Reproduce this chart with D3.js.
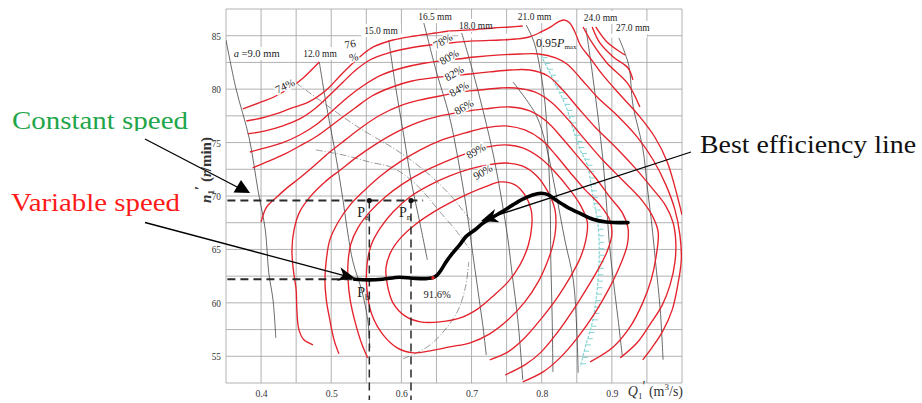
<!DOCTYPE html>
<html>
<head>
<meta charset="utf-8">
<script src="https://cdn.jsdelivr.net/npm/d3@7"></script>
<style>
  body { margin: 0; background: #fff; }
  svg { display: block; }
  svg text { font-family: "Liberation Serif", "DejaVu Serif", serif; }
</style>
</head>
<body>
<svg id="chart" width="922" height="403"></svg>
<script>
// ---------- axes ----------
const qDomain = [0.35, 1.0];
const nDomain = [52.5, 87.5];
const xTicks = [0.4, 0.5, 0.6, 0.7, 0.8, 0.9];
const yTicks = [55, 60, 65, 70, 75, 80, 85];

// ---------- efficiency contours [Q1', n1'] ----------
const eff74 = [[0.374,78.15],[0.397,78.71],[0.421,79.36],[0.447,80.39],[0.460,81.05],[0.483,82.54]];
const eff76 = [[0.379,77.02],[0.401,77.30],[0.421,77.68],[0.444,78.24],[0.468,78.80],[0.493,79.92],[0.511,81.14],[0.528,82.26],[0.544,83.20],[0.560,83.95],[0.588,84.60],[0.619,84.97],[0.648,85.25],[0.669,85.44],[0.698,85.54],[0.731,85.72],[0.755,85.82],[0.773,85.91]];
const eff78 = [[0.381,75.81],[0.406,76.09],[0.431,76.56],[0.455,77.21],[0.478,78.24],[0.498,79.45],[0.517,80.67],[0.535,81.79],[0.555,82.73],[0.581,83.38],[0.612,83.85],[0.641,84.13],[0.669,84.32],[0.705,84.51],[0.741,84.60],[0.763,84.69],[0.782,84.88],[0.799,85.35],[0.813,85.82],[0.823,86.28],[0.832,86.47],[0.840,86.19],[0.848,85.25],[0.855,84.13],[0.869,82.92],[0.887,81.33],[0.912,79.45],[0.940,77.40],[0.962,75.43],[0.979,73.19],[0.991,70.57],[1.000,68.23]];
const eff80 = [[0.384,74.12],[0.406,74.50],[0.430,74.97],[0.455,75.71],[0.480,76.74],[0.503,78.05],[0.524,79.27],[0.547,80.39],[0.572,81.33],[0.601,81.98],[0.634,82.45],[0.669,82.73],[0.705,83.01],[0.741,83.20],[0.769,83.29],[0.796,83.29],[0.820,82.92],[0.836,82.35],[0.855,81.05],[0.879,79.27],[0.907,77.58],[0.936,75.53],[0.959,73.37],[0.977,71.04],[0.990,68.70],[0.997,66.36],[0.999,64.02],[0.994,61.68],[0.986,59.34],[0.972,57.28],[0.957,55.79],[0.944,54.67]];
const eff82 = [[0.388,72.63],[0.408,73.19],[0.431,73.84],[0.455,74.68],[0.480,75.62],[0.507,76.93],[0.534,78.24],[0.558,79.36],[0.587,80.20],[0.615,80.76],[0.644,81.05],[0.669,81.23],[0.698,81.42],[0.726,81.61],[0.755,81.79],[0.783,81.79],[0.809,81.23],[0.830,79.92],[0.852,78.24],[0.876,76.46],[0.905,74.59],[0.933,72.63],[0.957,70.76],[0.976,69.17],[0.987,67.57],[0.991,65.89],[0.990,63.83],[0.983,61.68],[0.972,59.81],[0.954,57.94],[0.936,56.26],[0.912,54.85]];
const eff84 = [[0.400,67.57],[0.408,68.98],[0.421,69.82],[0.437,70.76],[0.455,71.69],[0.477,72.91],[0.498,74.12],[0.520,75.25],[0.544,76.46],[0.570,77.58],[0.598,78.43],[0.627,78.99],[0.655,79.36],[0.684,79.74],[0.712,79.92],[0.741,80.11],[0.762,80.11],[0.790,79.74],[0.815,78.71],[0.838,77.12],[0.862,75.25],[0.887,73.37],[0.915,71.50],[0.940,69.82],[0.957,68.23],[0.966,66.64],[0.963,64.30],[0.956,62.15],[0.944,60.00],[0.926,57.75],[0.902,55.88],[0.869,54.48]];
const eff86 = [[0.474,56.07],[0.461,56.54],[0.454,57.47],[0.451,59.34],[0.450,61.21],[0.446,63.08],[0.444,64.96],[0.447,66.83],[0.455,68.51],[0.471,70.01],[0.491,71.32],[0.513,72.44],[0.537,73.66],[0.562,74.78],[0.591,75.90],[0.622,76.84],[0.655,77.49],[0.686,77.86],[0.719,78.15],[0.755,78.33],[0.783,77.96],[0.808,76.93],[0.829,75.43],[0.852,73.66],[0.876,71.78],[0.897,69.91],[0.915,68.42],[0.923,67.01],[0.922,65.42],[0.912,63.55],[0.895,61.21],[0.876,59.06],[0.852,56.82],[0.826,54.85],[0.802,53.54],[0.773,52.61]];
const eff88 = [[0.511,55.23],[0.504,56.54],[0.498,58.41],[0.493,60.28],[0.491,62.15],[0.493,64.02],[0.498,65.89],[0.510,67.57],[0.527,69.17],[0.548,70.57],[0.572,71.97],[0.598,73.19],[0.627,74.31],[0.658,75.25],[0.691,75.90],[0.719,76.37],[0.748,76.56],[0.776,76.18],[0.800,75.25],[0.820,73.84],[0.840,72.25],[0.862,70.57],[0.883,69.17],[0.897,67.76],[0.900,66.36],[0.893,64.77],[0.880,63.08],[0.863,61.21],[0.845,59.34],[0.822,57.19],[0.798,55.32],[0.776,54.20],[0.748,53.26]];
const eff89 = [[0.552,54.85],[0.544,56.07],[0.534,58.22],[0.527,60.28],[0.524,62.15],[0.524,63.83],[0.528,65.52],[0.538,67.01],[0.555,68.51],[0.577,69.91],[0.602,71.13],[0.631,72.25],[0.662,73.19],[0.695,74.03],[0.723,74.59],[0.748,74.78],[0.773,74.50],[0.798,73.56],[0.819,72.25],[0.838,70.76],[0.855,69.17],[0.865,67.57],[0.863,65.89],[0.855,64.21],[0.840,62.34],[0.822,60.47],[0.798,58.41],[0.773,56.54],[0.752,55.41],[0.726,54.67]];
const eff90 = [[0.748,73.09],[0.772,72.81],[0.793,71.88],[0.809,70.38],[0.819,68.70],[0.820,67.01],[0.816,65.42],[0.808,63.83],[0.795,61.96],[0.776,60.09],[0.752,58.41],[0.726,57.10],[0.698,56.26],[0.669,55.88],[0.641,55.51],[0.617,55.32],[0.594,55.79],[0.574,57.00],[0.558,58.88],[0.551,61.21],[0.551,63.55],[0.557,65.42],[0.570,67.01],[0.588,68.51],[0.612,69.91],[0.641,71.04],[0.669,71.88],[0.698,72.53],[0.723,72.91],[0.748,73.09]];
const eff91 = [[0.741,71.32],[0.762,71.04],[0.776,70.10],[0.785,68.70],[0.786,67.29],[0.781,65.42],[0.769,63.55],[0.752,61.96],[0.731,60.65],[0.709,59.44],[0.684,58.59],[0.655,58.22],[0.627,58.22],[0.605,58.78],[0.588,60.00],[0.580,61.68],[0.578,63.27],[0.585,64.77],[0.599,66.08],[0.619,67.29],[0.644,68.42],[0.669,69.35],[0.695,70.19],[0.719,70.85],[0.741,71.32]];
const effTopA = [[0.859,85.82],[0.872,84.32],[0.893,82.45],[0.922,80.58],[0.940,78.33]];
const effTopB = [[0.872,85.82],[0.883,84.32],[0.902,83.01],[0.923,81.98],[0.930,80.86]];
const effTopC = [[0.877,85.82],[0.893,84.41],[0.912,83.48],[0.919,83.20]];
const contours = [eff74, eff76, eff78, eff80, eff82, eff84, eff86, eff88, eff89, eff90, eff91, effTopA, effTopB, effTopC];

// contour labels
const contourLabelText = ['74%', '76', '%', '78%', '80%', '82%', '84%', '86%', '89%', '90%'];
const contourLabelQ = [0.434, 0.527, 0.532, 0.659, 0.668, 0.675, 0.682, 0.689, 0.706, 0.716];
const contourLabelN = [80.30, 84.23, 83.01, 84.51, 83.01, 81.51, 80.02, 78.33, 74.22, 72.25];

// ---------- guide vane opening lines ----------
const open9  = [[0.350,84.60],[0.364,80.11],[0.383,75.43],[0.396,70.38],[0.406,66.83],[0.411,62.80],[0.417,60.28],[0.421,56.72]];
const open12 = [[0.483,82.54],[0.493,78.52],[0.505,74.31],[0.515,70.38],[0.524,66.36],[0.531,63.83],[0.544,61.03],[0.552,58.41],[0.555,55.79]];
const open15 = [[0.582,84.60],[0.592,80.11],[0.604,75.43],[0.615,71.04],[0.627,67.29],[0.637,64.02]];
const open165 = [[0.632,86.19],[0.650,81.61],[0.668,77.58],[0.681,73.37],[0.692,69.17],[0.701,64.96],[0.709,61.21],[0.716,57.94],[0.721,55.13]];
const open18 = [[0.686,85.25],[0.702,81.61],[0.718,77.58],[0.732,73.56],[0.743,69.63],[0.752,65.89],[0.758,62.62],[0.766,58.41],[0.773,52.79]];
const open21 = [[0.778,86.00],[0.789,84.41],[0.798,81.79],[0.805,78.52],[0.809,74.31],[0.812,69.63],[0.813,64.02],[0.815,58.41],[0.816,53.54]];
const open24 = [[0.863,85.72],[0.872,81.61],[0.880,77.58],[0.887,73.56],[0.892,69.63],[0.896,65.89],[0.902,62.15],[0.909,58.41],[0.915,54.95]];
const open27 = [[0.910,84.79],[0.924,82.26],[0.930,78.52],[0.944,74.50],[0.951,70.57],[0.957,67.29],[0.962,64.02],[0.969,59.34],[0.973,54.67]];
const openExtra = [[0.759,80.67],[0.792,77.58],[0.806,74.78],[0.820,70.38],[0.833,65.89],[0.845,62.15],[0.850,57.47],[0.852,53.45]];
const openingLines = [open9, open12, open15, open165, open18, open21, open24, open27, openExtra];
const openingText = ['9.0 mm', '12.0 mm', '15.0 mm', '16.5 mm', '18.0 mm', '21.0 mm', '24.0 mm', '27.0 mm'];
const openingLabelQ = [0.361, 0.460, 0.547, 0.624, 0.682, 0.766, 0.860, 0.906];
const openingLabelN = [83.01, 83.01, 85.16, 86.47, 85.63, 86.47, 86.38, 85.44];

// thin diagonal guide lines
const guide1 = [[0.450,80.58],[0.493,78.52],[0.540,76.37],[0.588,74.50],[0.617,73.19],[0.645,71.69],[0.672,69.91],[0.698,67.76]];
const guide2 = [[0.478,74.31],[0.517,73.84],[0.554,73.19],[0.588,72.63],[0.617,71.32],[0.635,70.10],[0.655,68.51],[0.677,66.83],[0.698,64.96]];
const guide3 = [[0.602,54.76],[0.619,55.23],[0.641,56.07],[0.662,57.47],[0.681,59.34],[0.692,61.68],[0.696,63.83]];
const guideLines = [guide1, guide2, guide3];

// 0.95 Pmax limit line
const powerLimit = [[0.799,83.20],[0.820,80.39],[0.835,78.33],[0.845,76.18],[0.855,74.31],[0.865,72.91],[0.873,69.91],[0.880,67.48],[0.882,64.68],[0.879,61.21],[0.872,58.13],[0.863,56.07],[0.855,54.01]];
const powerLabelQ = 0.792, powerLabelN = 83.95;

// best efficiency line
const bestLine = [[0.533,62.21],[0.554,62.15],[0.573,62.21],[0.597,62.40],[0.616,62.31],[0.635,62.27],[0.647,62.40],[0.654,62.83],[0.664,63.86],[0.673,64.65],[0.683,65.42],[0.692,66.20],[0.706,66.89],[0.716,67.45],[0.730,68.01],[0.744,68.54],[0.759,69.17],[0.773,69.70],[0.787,70.10],[0.799,70.26],[0.809,70.13],[0.820,69.63],[0.835,69.01],[0.854,68.39],[0.873,67.83],[0.892,67.57],[0.923,67.51]];
const peakQ = 0.645, peakN = 62.34, peakText = '91.6%';
const peakLabelQ = 0.651, peakLabelN = 60.84;

// operating points
const pointSub = ['a', 'n', 'b'];
const pointQ = [0.5543, 0.6137, 0.5543];
const pointN = [69.57, 69.57, 62.20];
const constantN = 69.57, variableN = 62.20;
const dashStartQ = 0.352, constantDashEndQ = 0.631;
const dropBottomN = 50.9;

// annotation targets
const constantTip = [0.3714, 71.50];
const variableTip = [0.534, 62.30];
const bestTip = [0.7135, 67.67];

// ---------- drawing ----------
const svg = d3.select('#chart');
const x = d3.scaleLinear().domain(qDomain).range([226, 682]);
const y = d3.scaleLinear().domain(nDomain).range([383, 9]);

const defs = svg.append('defs');
defs.append('clipPath').attr('id', 'plotClip').append('rect')
  .attr('x', x(qDomain[0])).attr('y', y(nDomain[1]))
  .attr('width', x(qDomain[1]) - x(qDomain[0])).attr('height', y(nDomain[0]) - y(nDomain[1]));
defs.append('clipPath').attr('id', 'constClip').append('rect')
  .attr('x', 0).attr('y', 0).attr('width', 220).attr('height', 131);

const gGrid = svg.append('g');
const gBoxes = svg.append('g');
const gThin = svg.append('g').attr('clip-path', 'url(#plotClip)');
const gRed = svg.append('g').attr('clip-path', 'url(#plotClip)');
const gOver = svg.append('g');
const gText = svg.append('g');

function condense(sel, f) {
  sel.each(function () {
    const w = this.getComputedTextLength();
    this.setAttribute('textLength', (w * f).toFixed(1));
    this.setAttribute('lengthAdjust', 'spacingAndGlyphs');
  });
}

// grid
const gridQ = d3.range(7, 21).map(i => +(i * 0.05).toFixed(2));
const gridN = d3.range(21, 36).map(i => i * 2.5);
gGrid.selectAll('line.v').data(gridQ).join('line')
  .attr('x1', d => x(d)).attr('x2', d => x(d))
  .attr('y1', y(nDomain[1])).attr('y2', y(nDomain[0]))
  .attr('stroke', '#a9a9a9').attr('stroke-width', 0.9);
gGrid.selectAll('line.h').data(gridN).join('line')
  .attr('y1', d => y(d)).attr('y2', d => y(d))
  .attr('x1', x(qDomain[0])).attr('x2', x(qDomain[1]))
  .attr('stroke', '#a9a9a9').attr('stroke-width', 0.9);

// tick labels
const xAxisG = svg.append('g').attr('transform', `translate(0,${y(nDomain[0])})`)
  .call(d3.axisBottom(x).tickValues(xTicks).tickSize(0).tickPadding(6).tickFormat(d3.format('.1f')));
xAxisG.select('.domain').remove();
xAxisG.selectAll('text').attr('font-size', 11).attr('fill', '#333');
condense(xAxisG.selectAll('text'), 0.88);

const yAxisG = svg.append('g').attr('transform', `translate(${x(qDomain[0])},0)`)
  .call(d3.axisLeft(y).tickValues(yTicks).tickSize(0).tickPadding(5));
yAxisG.select('.domain').remove();
yAxisG.selectAll('text').attr('font-size', 11).attr('fill', '#333');
condense(yAxisG.selectAll('text'), 0.85);

// axis titles
const yTitle = svg.append('text')
  .attr('transform', `translate(211,${(y(nDomain[0]) + y(nDomain[1])) / 2 - 26}) rotate(-90)`)
  .attr('text-anchor', 'middle').attr('font-size', 15)
  .attr('font-weight', 'bold').attr('fill', '#333');
yTitle.append('tspan').attr('font-style', 'italic').text('n');
yTitle.append('tspan').attr('font-size', 9).attr('dy', 3).text('1');
yTitle.append('tspan').attr('dy', -9).text('\u2032');
yTitle.append('tspan').attr('dy', 6).text(' (');
yTitle.append('tspan').attr('font-style', 'italic').text('r');
yTitle.append('tspan').text('/min)');

const xTitle = svg.append('text')
  .attr('x', 683).attr('y', 396).attr('text-anchor', 'end')
  .attr('font-size', 14).attr('fill', '#333');
xTitle.append('tspan').attr('font-style', 'italic').text('Q');
xTitle.append('tspan').attr('font-size', 9).attr('dy', 3).text('1');
xTitle.append('tspan').attr('dy', -8).text('\u2032');
xTitle.append('tspan').attr('dy', 5).text(' (m');
xTitle.append('tspan').attr('font-size', 9).attr('dy', -6).text('3');
xTitle.append('tspan').attr('dy', 6).text('/s)');

// line generators
const open = d3.line().x(d => x(d[0])).y(d => y(d[1])).curve(d3.curveCatmullRom.alpha(0.5));
const closed = d3.line().x(d => x(d[0])).y(d => y(d[1])).curve(d3.curveCatmullRomClosed.alpha(0.5));
const isLoop = c => c.length > 3 && c[0][0] === c[c.length - 1][0] && c[0][1] === c[c.length - 1][1];

// opening lines and guide lines
gThin.selectAll('path.open').data(openingLines).join('path')
  .attr('d', open).attr('fill', 'none').attr('stroke', '#3a3a3a').attr('stroke-width', 0.75);
gThin.selectAll('path.guide').data(guideLines).join('path')
  .attr('d', open).attr('fill', 'none').attr('stroke', '#6d6d6d').attr('stroke-width', 0.7)
  .attr('stroke-dasharray', '7,2,1,2');

// 0.95 Pmax limit with hatching
const limitPath = gThin.append('path').attr('d', open(powerLimit)).attr('fill', 'none')
  .attr('stroke', '#82d4d4').attr('stroke-width', 1.2).attr('stroke-dasharray', '3,1.5');
const limitNode = limitPath.node();
const limitLen = limitNode.getTotalLength();
const hatchAt = d3.range(3, limitLen, 6.5);
gThin.selectAll('line.hatch').data(hatchAt).join('line')
  .attr('x1', s => limitNode.getPointAtLength(s).x)
  .attr('y1', s => limitNode.getPointAtLength(s).y)
  .attr('x2', s => limitNode.getPointAtLength(s).x + 5)
  .attr('y2', s => limitNode.getPointAtLength(s).y)
  .attr('stroke', '#82d4d4').attr('stroke-width', 1);

// efficiency contours
gRed.selectAll('path.eff').data(contours).join('path')
  .attr('d', c => isLoop(c) ? closed(c.slice(0, -1)) : open(c))
  .attr('fill', 'none').attr('stroke', '#e4222c').attr('stroke-width', 1.35);

// opening labels (white boxes behind them)
openingText.forEach((t, i) => {
  const txt = gText.append('text')
    .attr('x', x(openingLabelQ[i])).attr('y', y(openingLabelN[i]))
    .attr('font-size', 10.5).attr('fill', '#222');
  if (i === 0) {
    txt.append('tspan').attr('font-style', 'italic').text('a');
    txt.append('tspan').text(' =' + t);
  } else {
    txt.text(t);
    condense(txt, 0.9);
  }
  const b = txt.node().getBBox();
  gBoxes.append('rect').attr('x', b.x - 3).attr('y', b.y - 1)
    .attr('width', b.width + 6).attr('height', b.height + 2).attr('fill', '#fff');
});
// the 85 grid line is hidden behind the label strip
gBoxes.append('rect').attr('x', x(0.553)).attr('y', y(85) - 2)
  .attr('width', x(0.626) - x(0.553)).attr('height', 4).attr('fill', '#fff');
gBoxes.append('rect').attr('x', x(0.681)).attr('y', y(85) - 2)
  .attr('width', x(0.95) - x(0.681)).attr('height', 4).attr('fill', '#fff');

// Pmax label
const pl = gText.append('text').attr('x', x(powerLabelQ)).attr('y', y(powerLabelN))
  .attr('font-size', 12).attr('fill', '#222');
pl.append('tspan').text('0.95');
pl.append('tspan').attr('font-style', 'italic').text('P');
pl.append('tspan').attr('font-size', 7).attr('dy', 2).text('max');

// contour labels
contourLabelText.forEach((t, i) => {
  const ang = i === 0 ? -25 : (i < 3 ? -12 : -30);
  gText.append('text')
    .attr('transform', `translate(${x(contourLabelQ[i])},${y(contourLabelN[i])}) rotate(${ang})`)
    .attr('text-anchor', 'middle').attr('dy', '0.35em')
    .attr('font-size', 11).attr('fill', '#222')
    .attr('stroke', '#fff').attr('stroke-width', 3).attr('paint-order', 'stroke')
    .text(t);
});

// dashed operating lines
const dash = gOver.append('g').attr('stroke', '#2a2a2a').attr('fill', 'none');
dash.append('line').attr('x1', x(dashStartQ)).attr('x2', x(constantDashEndQ))
  .attr('y1', y(constantN)).attr('y2', y(constantN))
  .attr('stroke-width', 2).attr('stroke-dasharray', '8,5');
dash.append('line').attr('x1', x(dashStartQ)).attr('x2', x(pointQ[2]))
  .attr('y1', y(variableN)).attr('y2', y(variableN))
  .attr('stroke-width', 2).attr('stroke-dasharray', '8,5');
[pointQ[0], pointQ[1]].forEach(q => {
  dash.append('line').attr('x1', x(q)).attr('x2', x(q))
    .attr('y1', y(constantN)).attr('y2', y(dropBottomN))
    .attr('stroke-width', 1.5).attr('stroke-dasharray', '8,5');
});

// best efficiency line
gOver.append('path').attr('d', open(bestLine)).attr('fill', 'none')
  .attr('stroke', '#000').attr('stroke-width', 3.6).attr('stroke-linecap', 'round');
gOver.append('circle').attr('cx', x(peakQ)).attr('cy', y(peakN)).attr('r', 1.8).attr('fill', '#e4222c');
gText.append('text').attr('x', x(peakLabelQ)).attr('y', y(peakLabelN)).attr('dy', '0.35em')
  .attr('text-anchor', 'middle').attr('font-size', 10.5).attr('fill', '#222')
  .text(peakText);

// operating points
pointSub.forEach((s, i) => {
  if (i < 2) {
    gOver.append('circle').attr('cx', x(pointQ[i])).attr('cy', y(pointN[i])).attr('r', 2.6).attr('fill', '#111');
  }
  const lbl = gText.append('text')
    .attr('x', x(pointQ[i]) - 12).attr('y', y(pointN[i]) + (i < 2 ? 16 : 18))
    .attr('font-size', 14).attr('fill', '#222');
  lbl.append('tspan').text('P');
  lbl.append('tspan').attr('font-size', 9).attr('dy', 3).text(s);
});

// annotations
const ann = svg.append('g');
function arrowHead(tx, ty, fx, fy, len, half) {
  const a = Math.atan2(ty - fy, tx - fx);
  const ux = Math.cos(a), uy = Math.sin(a), nx = -uy, ny = ux;
  const bx = tx - len * ux, by = ty - len * uy;
  const mx = tx - len * 0.72 * ux, my = ty - len * 0.72 * uy;
  return [[tx, ty], [bx + half * nx, by + half * ny], [mx, my], [bx - half * nx, by - half * ny]];
}

// constant speed
ann.append('text').attr('x', 12).attr('y', 129).attr('clip-path', 'url(#constClip)')
  .attr('font-size', 25).attr('fill', '#1fa64a')
  .attr('textLength', 176).attr('lengthAdjust', 'spacingAndGlyphs').text('Constant speed');
const cT = [x(constantTip[0]), y(constantTip[1])];
ann.append('line').attr('x1', 145).attr('y1', 139).attr('x2', cT[0] - 2).attr('y2', cT[1] + 8)
  .attr('stroke', '#000').attr('stroke-width', 1.3);
ann.append('polygon')
  .attr('points', [[cT[0], cT[1]], [cT[0] - 7.5, cT[1] + 12.5], [cT[0] + 9, cT[1] + 13]].map(p => p.join(',')).join(' '))
  .attr('fill', '#000');

// variable speed
ann.append('text').attr('x', 11).attr('y', 211)
  .attr('font-size', 25).attr('fill', '#ff1a1a')
  .attr('textLength', 169).attr('lengthAdjust', 'spacingAndGlyphs').text('Variable speed');
const vT = [x(variableTip[0]), y(variableTip[1])];
ann.append('line').attr('x1', 145).attr('y1', 222.5).attr('x2', vT[0] - 8).attr('y2', vT[1] - 2)
  .attr('stroke', '#000').attr('stroke-width', 1.3);
ann.append('polygon').attr('points', arrowHead(vT[0], vT[1], 145, 222.5, 17, 7).map(p => p.join(',')).join(' '))
  .attr('fill', '#000');

// best efficiency line label
ann.append('text').attr('x', 700).attr('y', 153)
  .attr('font-size', 25).attr('fill', '#111')
  .attr('textLength', 216).attr('lengthAdjust', 'spacingAndGlyphs').text('Best efficiency line');
const bT = [x(bestTip[0]), y(bestTip[1])];
ann.append('line').attr('x1', 691).attr('y1', 152).attr('x2', bT[0] + 8).attr('y2', bT[1] - 3)
  .attr('stroke', '#000').attr('stroke-width', 1.3);
ann.append('polygon').attr('points', arrowHead(bT[0], bT[1], 691, 152, 17, 7).map(p => p.join(',')).join(' '))
  .attr('fill', '#000');
</script>
</body>
</html>
